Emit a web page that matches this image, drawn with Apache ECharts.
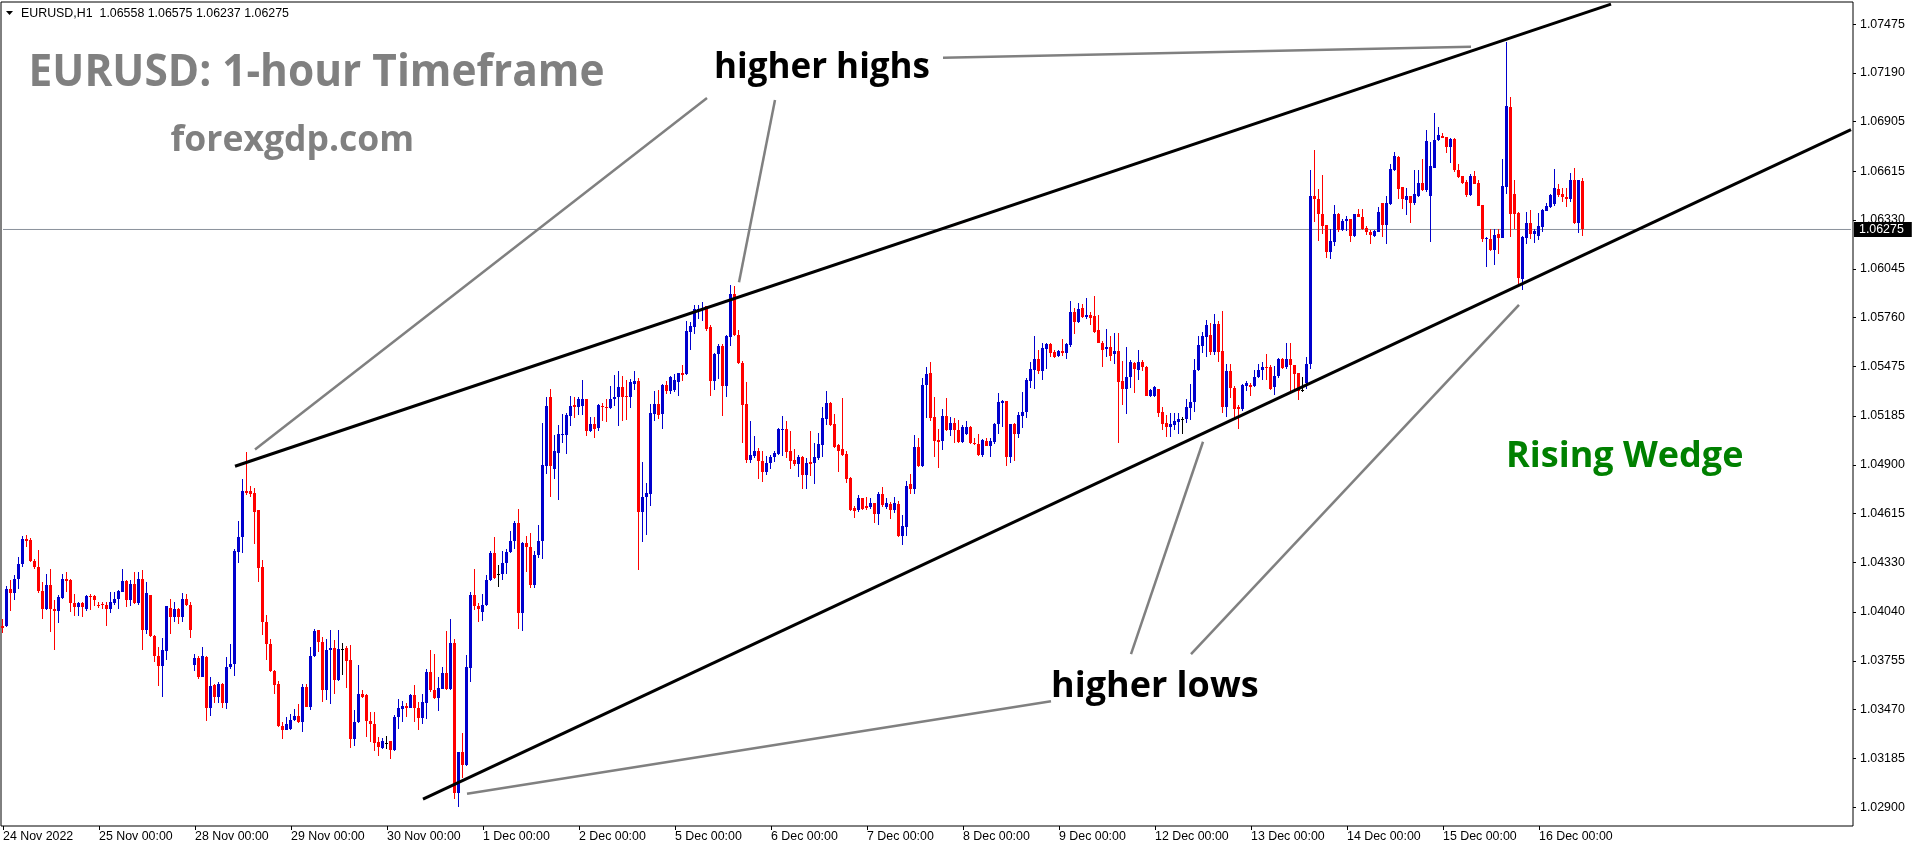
<!DOCTYPE html>
<html>
<head>
<meta charset="utf-8">
<script src="https://cdn.jsdelivr.net/npm/echarts@6/dist/echarts.min.js"></script>
<style>html,body{margin:0;padding:0;background:#fff;}#c{width:1916px;height:850px;}</style>
</head>
<body>
<div id="c"></div>
<script>
// ---- DATA: hourly candles [open, close, low, high] per trading day ----
const d24Nov = [
[1.03956,1.03948,1.03917,1.04001],[1.03960,1.04176,1.03950,1.04190],[1.04176,1.04151,1.04046,1.04225],[1.04151,1.04235,1.04108,1.04254],
[1.04232,1.04319,1.04176,1.04362],[1.04319,1.04465,1.04303,1.04484],[1.04465,1.04457,1.04420,1.04488],[1.04462,1.04336,1.04332,1.04473],
[1.04340,1.04303,1.04293,1.04352],[1.04305,1.04161,1.04151,1.04401],[1.04161,1.04055,1.03997,1.04213],[1.04055,1.04196,1.04050,1.04264],
[1.04196,1.04055,1.03923,1.04293],[1.04055,1.04046,1.03816,1.04108],[1.04046,1.04126,1.03975,1.04141],[1.04120,1.04231,1.04115,1.04260],
[1.04231,1.04221,1.04157,1.04274],[1.04225,1.04092,1.04040,1.04235],[1.04094,1.04069,1.04014,1.04147],[1.04069,1.04092,1.04014,1.04098],
[1.04092,1.04069,1.04010,1.04096],[1.04060,1.04135,1.04046,1.04137],[1.04135,1.04131,1.04050,1.04143],[1.04133,1.04108,1.04077,1.04137]];
const d25Nov = [
[1.04081,1.04075,1.04065,1.04100],[1.04085,1.04079,1.04059,1.04098],[1.04079,1.04055,1.03958,1.04100],[1.04055,1.04096,1.04034,1.04157],
[1.04092,1.04114,1.04084,1.04157],[1.04114,1.04165,1.04059,1.04170],[1.04160,1.04219,1.04155,1.04293],[1.04219,1.04112,1.04069,1.04225],
[1.04112,1.04206,1.04073,1.04225],[1.04206,1.04092,1.04088,1.04274],[1.04092,1.04231,1.04084,1.04274],[1.04231,1.03933,1.03816,1.04284],
[1.03933,1.04151,1.03913,1.04215],[1.04140,1.03899,1.03894,1.04141],[1.03901,1.03782,1.03751,1.03903],[1.03786,1.03724,1.03607,1.03835],
[1.03724,1.03821,1.03543,1.03890],[1.03812,1.04073,1.03761,1.04075],[1.04065,1.04010,1.03913,1.04116],[1.04010,1.04059,1.03981,1.04098],
[1.04059,1.04010,1.03972,1.04065],[1.04010,1.04114,1.03981,1.04151],[1.04114,1.04081,1.04073,1.04143],[1.04084,1.03933,1.03888,1.04098]];
const d28Nov = [
[1.03728,1.03771,1.03698,1.03792],[1.03771,1.03663,1.03650,1.03786],[1.03663,1.03786,1.03660,1.03835],[1.03780,1.03480,1.03406,1.03786],
[1.03480,1.03605,1.03435,1.03660],[1.03611,1.03543,1.03507,1.03621],[1.03543,1.03621,1.03507,1.03634],[1.03621,1.03507,1.03480,1.03623],
[1.03507,1.03718,1.03474,1.03777],[1.03718,1.03738,1.03708,1.03855],[1.03734,1.04395,1.03669,1.04410],[1.04391,1.04479,1.04326,1.04570],
[1.04479,1.04746,1.04385,1.04820],[1.04746,1.04736,1.04722,1.04976],[1.04746,1.04728,1.04713,1.04775],[1.04736,1.04625,1.04440,1.04767],
[1.04635,1.04299,1.04215,1.04636],[1.04303,1.03981,1.03903,1.04342],[1.03981,1.03851,1.03761,1.04020],[1.03851,1.03695,1.03690,1.03884],
[1.03698,1.03615,1.03562,1.03700],[1.03617,1.03373,1.03367,1.03640],[1.03373,1.03351,1.03297,1.03396],[1.03353,1.03383,1.03348,1.03425]];
const d29Nov = [
[1.03357,1.03412,1.03348,1.03445],[1.03412,1.03435,1.03406,1.03474],[1.03435,1.03396,1.03390,1.03503],[1.03396,1.03601,1.03338,1.03621],
[1.03601,1.03488,1.03485,1.03621],[1.03488,1.03786,1.03468,1.03835],[1.03786,1.03929,1.03777,1.03942],[1.03933,1.03864,1.03806,1.03935],
[1.03864,1.03582,1.03513,1.03894],[1.03582,1.03816,1.03527,1.03884],[1.03816,1.03831,1.03500,1.03933],[1.03831,1.03644,1.03562,1.03878],
[1.03644,1.03825,1.03636,1.03937],[1.03825,1.03825,1.03673,1.03860],[1.03829,1.03753,1.03597,1.03839],[1.03757,1.03299,1.03244,1.03845],
[1.03299,1.03400,1.03256,1.03468],[1.03396,1.03562,1.03390,1.03732],[1.03562,1.03543,1.03540,1.03587],[1.03553,1.03402,1.03309,1.03562],
[1.03402,1.03383,1.03283,1.03455],[1.03383,1.03275,1.03227,1.03455],[1.03279,1.03250,1.03197,1.03309],[1.03244,1.03289,1.03237,1.03305]];
const d30Nov = [
[1.03275,1.03275,1.03237,1.03314],[1.03285,1.03234,1.03182,1.03289],[1.03234,1.03429,1.03230,1.03437],[1.03429,1.03480,1.03357,1.03533],
[1.03476,1.03490,1.03396,1.03523],[1.03490,1.03480,1.03425,1.03509],[1.03480,1.03558,1.03478,1.03562],[1.03558,1.03480,1.03396,1.03611],
[1.03480,1.03420,1.03353,1.03513],[1.03420,1.03513,1.03387,1.03562],[1.03509,1.03689,1.03416,1.03708],[1.03689,1.03582,1.03572,1.03816],
[1.03582,1.03539,1.03533,1.03796],[1.03539,1.03595,1.03461,1.03663],[1.03591,1.03685,1.03589,1.03718],[1.03685,1.03589,1.03582,1.03927],
[1.03589,1.03858,1.03582,1.03997],[1.03858,1.02983,1.02950,1.03885],[1.02983,1.03223,1.02902,1.03225],[1.03223,1.03145,1.03073,1.03334],
[1.03145,1.03720,1.03140,1.03788],[1.03714,1.04138,1.03632,1.04158],[1.04138,1.04074,1.04051,1.04290],[1.04074,1.04057,1.03983,1.04090]];
const d1Dec = [
[1.04040,1.04084,1.03987,1.04148],[1.04084,1.04230,1.04075,1.04255],[1.04230,1.04387,1.04220,1.04397],[1.04387,1.04241,1.04235,1.04481],
[1.04262,1.04262,1.04189,1.04314],[1.04262,1.04324,1.04230,1.04397],[1.04324,1.04393,1.04262,1.04408],[1.04393,1.04454,1.04387,1.04516],
[1.04454,1.04560,1.04408,1.04571],[1.04560,1.04032,1.03938,1.04642],[1.04032,1.04443,1.03928,1.04450],[1.04443,1.04418,1.04272,1.04485],
[1.04418,1.04199,1.04178,1.04502],[1.04199,1.04376,1.04178,1.04397],[1.04376,1.04454,1.04356,1.04550],[1.04454,1.04898,1.04349,1.05144],
[1.04894,1.05243,1.04846,1.05295],[1.05299,1.04894,1.04715,1.05341],[1.04873,1.04978,1.04819,1.05076],[1.04971,1.05080,1.04696,1.05132],
[1.05076,1.05080,1.05028,1.05195],[1.05076,1.05190,1.04961,1.05201],[1.05186,1.05243,1.05124,1.05305],[1.05249,1.05236,1.05176,1.05299]];
const d2Dec = [
[1.05236,1.05284,1.05190,1.05295],[1.05243,1.05284,1.05190,1.05395],[1.05284,1.05096,1.05069,1.05286],[1.05096,1.05138,1.05090,1.05180],
[1.05138,1.05111,1.05055,1.05180],[1.05117,1.05249,1.05096,1.05257],[1.05243,1.05236,1.05159,1.05263],[1.05238,1.05232,1.05149,1.05284],
[1.05232,1.05284,1.05228,1.05362],[1.05284,1.05299,1.05243,1.05424],[1.05295,1.05357,1.05128,1.05451],[1.05357,1.05299,1.05159,1.05420],
[1.05305,1.05295,1.05163,1.05395],[1.05295,1.05382,1.05232,1.05399],[1.05370,1.05389,1.05340,1.05451],[1.05389,1.04623,1.04283,1.05410],
[1.04623,1.04710,1.04450,1.04915],[1.04710,1.04735,1.04491,1.04794],[1.04731,1.05201,1.04658,1.05257],[1.05197,1.05257,1.05159,1.05332],
[1.05257,1.05190,1.05170,1.05336],[1.05195,1.05368,1.05107,1.05370],[1.05368,1.05332,1.05316,1.05389],[1.05332,1.05414,1.05311,1.05420]];
const d5Dec = [
[1.05336,1.05395,1.05326,1.05430],[1.05382,1.05435,1.05301,1.05437],[1.05437,1.05424,1.05389,1.05483],[1.05430,1.05681,1.05424,1.05743],
[1.05677,1.05712,1.05570,1.05733],[1.05706,1.05810,1.05666,1.05831],[1.05806,1.05812,1.05750,1.05831],[1.05810,1.05817,1.05743,1.05852],
[1.05827,1.05691,1.05681,1.05829],[1.05706,1.05389,1.05301,1.05716],[1.05389,1.05549,1.05336,1.05556],[1.05545,1.05597,1.05399,1.05604],
[1.05597,1.05362,1.05184,1.05604],[1.05362,1.05654,1.05295,1.05660],[1.05645,1.05900,1.05597,1.05952],[1.05900,1.05660,1.05650,1.05946],
[1.05660,1.05493,1.05487,1.05687],[1.05497,1.05249,1.05028,1.05507],[1.05253,1.04930,1.04909,1.05385],[1.04930,1.04957,1.04909,1.05159],
[1.04951,1.04978,1.04940,1.05069],[1.04982,1.04923,1.04819,1.04996],[1.04923,1.04857,1.04798,1.04982],[1.04857,1.04909,1.04840,1.04950]];
const d6Dec = [
[1.04909,1.04946,1.04873,1.04957],[1.04944,1.04967,1.04915,1.04982],[1.04961,1.05107,1.04955,1.05113],[1.05103,1.05111,1.04950,1.05186],
[1.05107,1.04976,1.04940,1.05159],[1.04978,1.04923,1.04877,1.05096],[1.04930,1.04902,1.04894,1.04992],[1.04902,1.04944,1.04829,1.04957],
[1.04944,1.04840,1.04758,1.04950],[1.04840,1.04909,1.04758,1.04940],[1.04915,1.04902,1.04836,1.05096],[1.04909,1.04946,1.04790,1.05028],
[1.04940,1.05023,1.04930,1.05086],[1.05017,1.05176,1.04944,1.05236],[1.05170,1.05261,1.05132,1.05330],[1.05261,1.05132,1.05128,1.05270],
[1.05138,1.05007,1.04998,1.05195],[1.05013,1.04982,1.04857,1.05023],[1.04992,1.04955,1.04950,1.05288],[1.04965,1.04819,1.04794,1.04978],
[1.04825,1.04637,1.04631,1.04831],[1.04648,1.04631,1.04589,1.04658],[1.04637,1.04706,1.04623,1.04721],[1.04706,1.04644,1.04637,1.04708]];
const d7Dec = [
[1.04658,1.04648,1.04637,1.04715],[1.04652,1.04675,1.04644,1.04706],[1.04675,1.04610,1.04558,1.04679],[1.04610,1.04731,1.04548,1.04742],
[1.04731,1.04664,1.04654,1.04773],[1.04654,1.04675,1.04644,1.04706],[1.04669,1.04637,1.04585,1.04685],[1.04637,1.04675,1.04617,1.04710],
[1.04669,1.04485,1.04477,1.04690],[1.04485,1.04543,1.04433,1.04606],[1.04539,1.04777,1.04485,1.04804],[1.04788,1.04758,1.04727,1.04846],
[1.04758,1.05003,1.04731,1.05076],[1.05003,1.04894,1.04890,1.05055],[1.04893,1.05366,1.04889,1.05405],[1.05366,1.05430,1.05171,1.05473],
[1.05434,1.05175,1.05157,1.05498],[1.05181,1.05041,1.04947,1.05294],[1.05045,1.05035,1.04883,1.05107],[1.05041,1.05187,1.04986,1.05224],
[1.05187,1.05103,1.05097,1.05288],[1.05103,1.05146,1.05068,1.05181],[1.05142,1.05103,1.05025,1.05171],[1.05103,1.05035,1.05025,1.05162]];
const d8Dec = [
[1.05035,1.05122,1.05030,1.05132],[1.05078,1.05122,1.05075,1.05157],[1.05122,1.05025,1.05019,1.05124],[1.05029,1.05019,1.05015,1.05054],
[1.05023,1.04957,1.04951,1.05080],[1.04957,1.05045,1.04947,1.05049],[1.05039,1.05011,1.05009,1.05054],[1.05011,1.05041,1.04947,1.05054],
[1.05035,1.05138,1.05021,1.05142],[1.05138,1.05269,1.05083,1.05321],[1.05259,1.05274,1.05122,1.05278],[1.05272,1.04947,1.04893,1.05274],
[1.04947,1.05136,1.04908,1.05138],[1.05136,1.05083,1.04922,1.05146],[1.05083,1.05191,1.05054,1.05210],[1.05187,1.05210,1.05113,1.05327],
[1.05210,1.05395,1.05171,1.05405],[1.05391,1.05460,1.05346,1.05498],[1.05454,1.05518,1.05341,1.05652],[1.05516,1.05448,1.05430,1.05570],
[1.05448,1.05580,1.05395,1.05613],[1.05576,1.05606,1.05458,1.05613],[1.05606,1.05555,1.05528,1.05609],[1.05561,1.05528,1.05526,1.05570]];
const d9Dec = [
[1.05537,1.05567,1.05528,1.05570],[1.05567,1.05555,1.05536,1.05635],[1.05551,1.05606,1.05518,1.05609],[1.05600,1.05791,1.05590,1.05857],
[1.05795,1.05736,1.05662,1.05818],[1.05736,1.05810,1.05730,1.05843],[1.05814,1.05761,1.05759,1.05839],[1.05765,1.05775,1.05752,1.05872],
[1.05775,1.05756,1.05717,1.05795],[1.05769,1.05678,1.05672,1.05886],[1.05687,1.05613,1.05609,1.05775],[1.05613,1.05570,1.05469,1.05625],
[1.05576,1.05586,1.05528,1.05691],[1.05586,1.05537,1.05508,1.05652],[1.05545,1.05567,1.05489,1.05672],[1.05567,1.05385,1.05025,1.05672],
[1.05391,1.05343,1.05249,1.05508],[1.05341,1.05411,1.05197,1.05586],[1.05411,1.05502,1.05346,1.05512],[1.05493,1.05458,1.05321,1.05502],
[1.05454,1.05502,1.05395,1.05570],[1.05502,1.05469,1.05450,1.05512],[1.05473,1.05302,1.05300,1.05475],[1.05302,1.05337,1.05298,1.05343]];
const d12Dec = [
[1.05302,1.05356,1.05298,1.05362],[1.05343,1.05204,1.05181,1.05345],[1.05210,1.05136,1.05103,1.05239],[1.05142,1.05122,1.05060,1.05191],
[1.05122,1.05138,1.05064,1.05204],[1.05132,1.05157,1.05103,1.05204],[1.05152,1.05167,1.05083,1.05200],[1.05167,1.05167,1.05083,1.05181],
[1.05167,1.05235,1.05142,1.05282],[1.05233,1.05265,1.05162,1.05372],[1.05265,1.05454,1.05206,1.05516],[1.05454,1.05600,1.05448,1.05652],
[1.05596,1.05652,1.05551,1.05678],[1.05648,1.05717,1.05532,1.05746],[1.05658,1.05557,1.05541,1.05726],[1.05557,1.05722,1.05541,1.05779],
[1.05722,1.05557,1.05498,1.05742],[1.05565,1.05239,1.05204,1.05800],[1.05239,1.05448,1.05177,1.05487],[1.05448,1.05346,1.05288,1.05487],
[1.05346,1.05224,1.05171,1.05360],[1.05235,1.05224,1.05107,1.05249],[1.05224,1.05366,1.05216,1.05370],[1.05362,1.05380,1.05333,1.05389]];
const d13Dec = [
[1.05366,1.05356,1.05302,1.05376],[1.05360,1.05415,1.05356,1.05454],[1.05411,1.05454,1.05405,1.05487],[1.05454,1.05473,1.05395,1.05502],
[1.05473,1.05467,1.05395,1.05547],[1.05473,1.05343,1.05337,1.05483],[1.05352,1.05419,1.05308,1.05477],[1.05419,1.05516,1.05405,1.05522],
[1.05516,1.05467,1.05458,1.05522],[1.05469,1.05516,1.05458,1.05610],[1.05516,1.05483,1.05317,1.05613],[1.05483,1.05430,1.05327,1.05483],
[1.05434,1.05333,1.05278,1.05438],[1.05340,1.05340,1.05327,1.05411],[1.05380,1.05487,1.05341,1.05528],[1.05487,1.06469,1.05460,1.06622],
[1.06469,1.06452,1.06316,1.06738],[1.06456,1.06368,1.06208,1.06510],[1.06368,1.06296,1.06251,1.06592],[1.06300,1.06144,1.06109,1.06304],
[1.06144,1.06208,1.06101,1.06280],[1.06202,1.06364,1.06177,1.06417],[1.06364,1.06271,1.06261,1.06374],[1.06271,1.06323,1.06265,1.06335]];
const d14Dec = [
[1.06323,1.06339,1.06267,1.06352],[1.06335,1.06236,1.06203,1.06337],[1.06236,1.06364,1.06232,1.06368],[1.06364,1.06349,1.06345,1.06392],
[1.06349,1.06275,1.06271,1.06392],[1.06286,1.06261,1.06242,1.06294],[1.06261,1.06242,1.06189,1.06271],[1.06238,1.06267,1.06232,1.06271],
[1.06261,1.06378,1.06259,1.06407],[1.06427,1.06300,1.06232,1.06431],[1.06300,1.06427,1.06193,1.06471],[1.06423,1.06627,1.06417,1.06657],
[1.06621,1.06703,1.06617,1.06729],[1.06699,1.06514,1.06456,1.06703],[1.06524,1.06456,1.06392,1.06526],[1.06446,1.06469,1.06358,1.06520],
[1.06469,1.06427,1.06314,1.06471],[1.06427,1.06481,1.06417,1.06622],[1.06469,1.06547,1.06465,1.06625],[1.06547,1.06505,1.06501,1.06684],
[1.06505,1.06793,1.06495,1.06859],[1.06469,1.06647,1.06203,1.06787],[1.06637,1.06797,1.06633,1.06957],[1.06797,1.06826,1.06793,1.06875]];
const d15Dec = [
[1.06822,1.06812,1.06807,1.06836],[1.06816,1.06758,1.06719,1.06818],[1.06758,1.06801,1.06664,1.06807],[1.06801,1.06622,1.06612,1.06812],
[1.06625,1.06582,1.06573,1.06657],[1.06586,1.06547,1.06543,1.06588],[1.06553,1.06475,1.06466,1.06563],[1.06475,1.06588,1.06473,1.06602],
[1.06588,1.06543,1.06540,1.06616],[1.06547,1.06413,1.06411,1.06567],[1.06417,1.06218,1.06203,1.06419],[1.06218,1.06228,1.06057,1.06232],
[1.06222,1.06154,1.06150,1.06280],[1.06158,1.06242,1.06066,1.06280],[1.06248,1.06228,1.06134,1.06280],[1.06228,1.06530,1.06226,1.06686],
[1.06524,1.06995,1.06485,1.07371],[1.06992,1.06368,1.06232,1.07050],[1.06485,1.06368,1.06280,1.06567],[1.06372,1.05992,1.05959,1.06378],
[1.05988,1.06232,1.05924,1.06236],[1.06228,1.06310,1.06193,1.06378],[1.06314,1.06251,1.06222,1.06388],[1.06251,1.06267,1.06197,1.06280]];
const d16Dec = [
[1.06238,1.06294,1.06212,1.06372],[1.06290,1.06388,1.06261,1.06392],[1.06384,1.06413,1.06382,1.06431],[1.06407,1.06475,1.06403,1.06481],
[1.06421,1.06518,1.06411,1.06627],[1.06510,1.06475,1.06466,1.06540],[1.06485,1.06466,1.06436,1.06520],[1.06466,1.06452,1.06407,1.06520],
[1.06452,1.06567,1.06436,1.06606],[1.06567,1.06314,1.06306,1.06635],[1.06314,1.06563,1.06255,1.06565],[1.06558,1.06275,1.06237,1.06575]];

const dayNames = ['24 Nov','25 Nov','28 Nov','29 Nov','30 Nov','1 Dec','2 Dec','5 Dec','6 Dec','7 Dec','8 Dec','9 Dec','12 Dec','13 Dec','14 Dec','15 Dec','16 Dec'];
const dayBars = [d24Nov,d25Nov,d28Nov,d29Nov,d30Nov,d1Dec,d2Dec,d5Dec,d6Dec,d7Dec,d8Dec,d9Dec,d12Dec,d13Dec,d14Dec,d15Dec,d16Dec];
const yTicks = [1.02900,1.03185,1.03470,1.03755,1.04040,1.04330,1.04615,1.04900,1.05185,1.05475,1.05760,1.06045,1.06330,1.06615,1.06905,1.07190,1.07475];
const yMin = 1.02790, yMax = 1.07604;
const lastPrice = 1.06275;
const headerText = 'EURUSD,H1  1.06558 1.06575 1.06237 1.06275';

// annotation lines in data space: [bar index, price]
const upperLine = [[58,1.04892],[402,1.07592]];
const lowerLine = [[105,1.02947],[462,1.06859]];
const highsPtr1 = [[63,1.04990],[176,1.07043]];
const highsPtr2 = [[184,1.05967],[193,1.07031]];
const highsPtr3 = [[235,1.07279],[367,1.07342]];
const lowsPtr1 = [[116,1.02978],[262,1.03519]];
const lowsPtr2 = [[282,1.03794],[300,1.05035]];
const lowsPtr3 = [[297,1.03794],[379,1.05835]];

// ---- build ----
const ohlc = [];
const cats = [];
const dayStart = new Set();
dayBars.forEach((bars, d) => {
  dayStart.add(ohlc.length);
  bars.forEach((b, h) => {
    ohlc.push(b);
    const hh = String(h).padStart(2, '0') + ':00';
    cats.push(h === 0 ? (d === 0 ? '24 Nov 2022' : dayNames[d] + ' 00:00') : dayNames[d] + ' ' + hh);
  });
});
const totalSlots = 463;
while (cats.length < totalSlots) cats.push('');
const showIdx = (i) => dayStart.has(i);
const priceLine = [[0, lastPrice], [totalSlots - 1, lastPrice]];
const candleData = ohlc.map((b, i) => [i, b[0], b[1], b[2], b[3]]);

const UP = '#0000cd', DOWN = '#ff0000', DOJI = '#000000';
function renderCandle(params, api) {
  const i = api.value(0), o = api.value(1), c = api.value(2), l = api.value(3), h = api.value(4);
  const po = api.coord([i, o]), pc = api.coord([i, c]), pl = api.coord([i, l]), ph = api.coord([i, h]);
  const cx = Math.round(po[0]) - 1;
  const color = c > o ? UP : (c < o ? DOWN : DOJI);
  let top = Math.round(Math.min(po[1], pc[1])), bot = Math.round(Math.max(po[1], pc[1]));
  if (bot - top < 1) bot = top + 1;
  const wt = Math.round(ph[1]);
  const wb = Math.max(Math.round(pl[1]), wt + 1);
  return {
    type: 'group',
    children: [
      { type: 'rect', shape: { x: cx, y: wt, width: 1, height: wb - wt }, style: { fill: color } },
      { type: 'rect', shape: { x: cx - 1, y: top, width: 3, height: bot - top }, style: { fill: color } }
    ]
  };
}

function guide(data, color, width) {
  return { type: 'line', data: data, symbol: 'none', silent: true, animation: false, clip: true,
           lineStyle: { color: color, width: width }, emphasis: { disabled: true }, z: 5 };
}

const smallFont = 'Liberation Sans';
const chart = echarts.init(document.getElementById('c'), null, { renderer: 'canvas' });
chart.setOption({
  animation: false,
  backgroundColor: '#fff',
  grid: { left: 1, right: 63, top: 2, bottom: 24, show: true, borderColor: '#000', borderWidth: 1, backgroundColor: '#fff' },
  xAxis: {
    type: 'category', data: cats, boundaryGap: true,
    axisLine: { show: false },
    axisTick: { show: true, alignWithLabel: true, interval: showIdx, length: 4, lineStyle: { color: '#000' } },
    axisLabel: { interval: showIdx, align: 'left', margin: 5, color: '#000', fontFamily: smallFont, fontSize: 12.4 },
    splitLine: { show: false }
  },
  yAxis: {
    type: 'value', position: 'right', min: yMin, max: yMax,
    axisLine: { show: false },
    axisTick: { show: true, customValues: yTicks, length: 3, lineStyle: { color: '#000' } },
    axisLabel: { customValues: yTicks, formatter: (v) => v.toFixed(5), margin: 7, color: '#000', fontFamily: smallFont, fontSize: 12.4 },
    splitLine: { show: false }
  },
  series: [
    {
      type: 'line', data: priceLine, symbol: 'none', silent: true, animation: false, z: 1,
      lineStyle: { color: '#8a919c', width: 1 }, emphasis: { disabled: true },
      endLabel: { show: true, formatter: lastPrice.toFixed(5), color: '#fff', backgroundColor: '#000',
                  padding: [2, 8, 1, 5], fontFamily: smallFont, fontSize: 12.4, distance: 3 }
    },
    {
      type: 'custom', data: candleData, renderItem: renderCandle, z: 2, silent: true, animation: false, clip: true,
      encode: { x: 0, y: [1, 2, 3, 4] }
    },
    guide(upperLine, '#000', 3),
    guide(lowerLine, '#000', 3),
    guide(highsPtr1, '#808080', 2.5),
    guide(highsPtr2, '#808080', 2.5),
    guide(highsPtr3, '#808080', 2.5),
    guide(lowsPtr1, '#808080', 2.5),
    guide(lowsPtr2, '#808080', 2.5),
    guide(lowsPtr3, '#808080', 2.5)
  ],
  graphic: [
    { type: 'polygon', shape: { points: [[6, 11], [13, 11], [9.5, 15]] }, style: { fill: '#000' }, z: 20 },
    { type: 'text', x: 21, y: 13.5, z: 20, style: { text: headerText, fill: '#000', font: '12.4px "Liberation Sans"', verticalAlign: 'middle' } },
    { type: 'text', x: 28.6, y: 73, scaleX: 0.942, z: 20, style: { text: 'EURUSD: 1-hour Timeframe', fill: '#808080', font: 'bold 45px "Open Sans"', verticalAlign: 'middle' } },
    { type: 'text', x: 170.6, y: 141, z: 20, style: { text: 'forexgdp.com', fill: '#808080', font: 'bold 35.5px "Open Sans"', verticalAlign: 'middle' } },
    { type: 'text', x: 714, y: 68, z: 20, style: { text: 'higher highs', fill: '#000', font: 'bold 35px "Open Sans"', verticalAlign: 'middle' } },
    { type: 'text', x: 1051, y: 687, z: 20, style: { text: 'higher lows', fill: '#000', font: 'bold 36px "Open Sans"', verticalAlign: 'middle' } },
    { type: 'text', x: 1506, y: 457, z: 20, style: { text: 'Rising Wedge', fill: '#008000', font: 'bold 36px "Open Sans"', verticalAlign: 'middle' } }
  ]
});
</script>
</body>
</html>
